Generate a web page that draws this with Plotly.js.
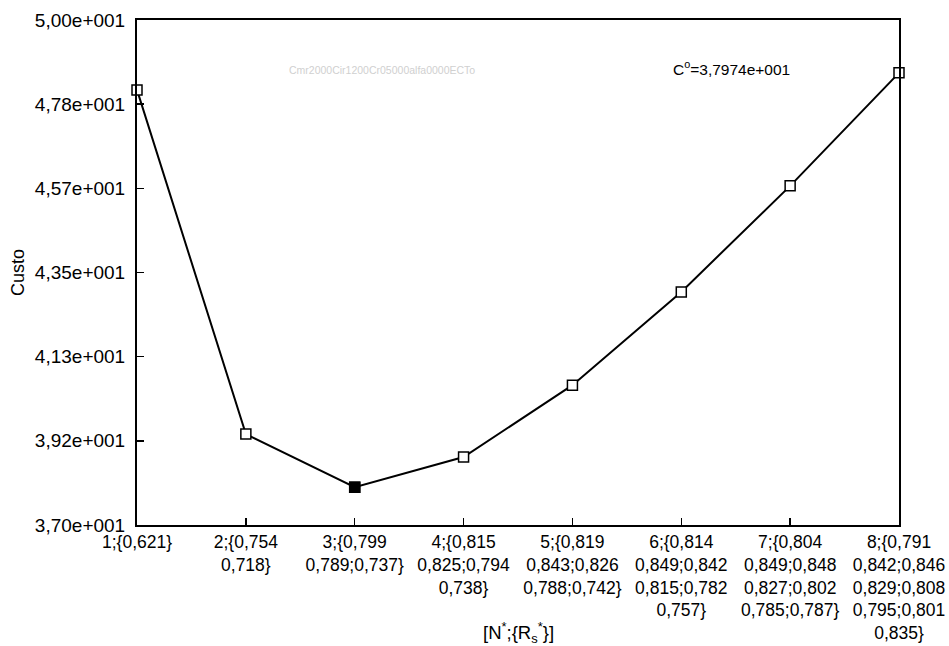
<!DOCTYPE html>
<html>
<head>
<meta charset="utf-8">
<script src="https://cdn.plot.ly/plotly-3.0.1.min.js"></script>
<style>html,body{margin:0;padding:0;background:#fff}#chart{width:949px;height:646px}</style>
</head>
<body>
<div id="chart"></div>
<script>
// Data
const xPos = [1, 2, 3, 4, 5, 6, 7, 8];
const custo = [48.20, 39.34, 37.974, 38.75, 40.60, 43.00, 45.73, 48.64];
const xTickText = [
  "1;{0,621}",
  "2;{0,754<br>0,718}",
  "3;{0,799<br>0,789;0,737}",
  "4;{0,815<br>0,825;0,794<br>0,738}",
  "5;{0,819<br>0,843;0,826<br>0,788;0,742}",
  "6;{0,814<br>0,849;0,842<br>0,815;0,782<br>0,757}",
  "7;{0,804<br>0,849;0,848<br>0,827;0,802<br>0,785;0,787}",
  "8;{0,791<br>0,842;0,846<br>0,829;0,808<br>0,795;0,801<br>0,835}"
];
const yTickVals = [37.0, 39.1667, 41.3333, 43.5, 45.6667, 47.8333, 50.0];
const yTickText = ["3,70e+001", "3,92e+001", "4,13e+001", "4,35e+001", "4,57e+001", "4,78e+001", "5,00e+001"];
const optimumIndex = 2;
const titleText = "Cmr2000Cir1200Cr05000alfa0000ECTo";
const optText = "C<sup>o</sup>=3,7974e+001";
const xTitle = "[N<sup>*</sup>;{R<sub>s</sub><sup>*</sup>}]";
const yTitle = "Custo";

const FONT = "Liberation Sans, Arial, sans-serif";

const traces = [
  {
    x: xPos, y: custo, type: "scatter", mode: "lines+markers",
    line: {color: "#000", width: 2},
    marker: {symbol: "square", size: 10, color: "#fff", line: {color: "#000", width: 1.5}},
    hoverinfo: "skip", showlegend: false, cliponaxis: false
  },
  {
    x: [xPos[optimumIndex]], y: [custo[optimumIndex]], type: "scatter", mode: "markers",
    marker: {symbol: "square", size: 10, color: "#000", line: {color: "#000", width: 1.5}},
    hoverinfo: "skip", showlegend: false, cliponaxis: false
  }
];

const layout = {
  width: 949, height: 646,
  margin: {l: 137, r: 50, t: 20, b: 121},
  paper_bgcolor: "#fff", plot_bgcolor: "#fff",
  font: {family: FONT, size: 18, color: "#000"},
  xaxis: {
    range: [1, 8], tickvals: xPos, ticktext: xTickText,
    ticks: "inside", ticklen: 7, tickwidth: 1.5, tickcolor: "#000",
    showline: true, linecolor: "#000", linewidth: 2, mirror: true,
    showgrid: false, zeroline: false,
    ticklabelstandoff: 0,
    tickfont: {family: FONT, size: 17.5, color: "#000"}
  },
  yaxis: {
    range: [37, 50], tickvals: yTickVals, ticktext: yTickText,
    ticks: "inside", ticklen: 7, tickwidth: 1.5, tickcolor: "#000",
    showline: true, linecolor: "#000", linewidth: 2, mirror: true,
    showgrid: false, zeroline: false,
    ticklabelstandoff: 6,
    tickfont: {family: FONT, size: 19, color: "#000"},
    title: {text: yTitle, font: {family: FONT, size: 18, color: "#000"}, standoff: 6}
  },
  annotations: [
    {text: titleText, xref: "paper", yref: "paper", x: 0.3215, y: 0.901, xanchor: "center", yanchor: "middle",
     showarrow: false, font: {family: FONT, size: 10.5, color: "#d0d0d0"}},
    {text: optText, xref: "paper", yref: "paper", x: 0.78, y: 0.905, xanchor: "center", yanchor: "middle",
     showarrow: false, font: {family: FONT, size: 15.5, color: "#000"}},
    {text: xTitle, xref: "paper", yref: "paper", x: 0.5, y: -0.212,
     xanchor: "center", yanchor: "middle", showarrow: false,
     font: {family: FONT, size: 18.5, color: "#000"}}
  ]
};

Plotly.newPlot("chart", traces, layout, {displayModeBar: false, staticPlot: true});
</script>
</body>
</html>
